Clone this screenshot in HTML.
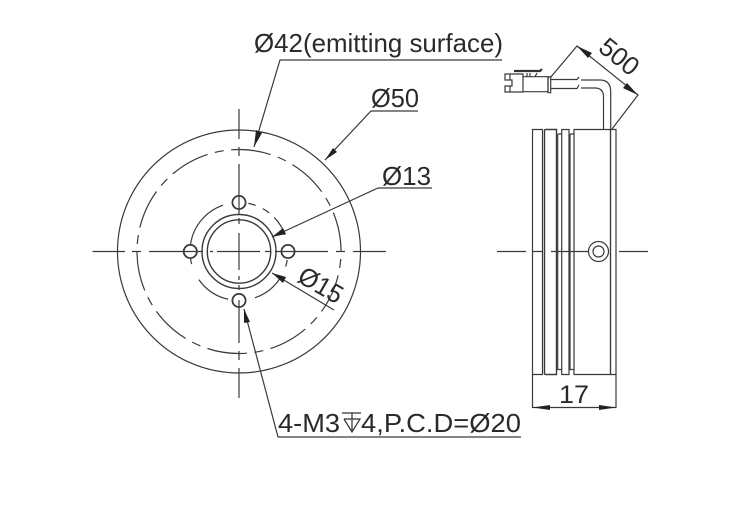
<!DOCTYPE html>
<html><head><meta charset="utf-8"><style>
html,body{margin:0;padding:0;background:#fff;overflow:hidden}
svg{display:block}
text{font-family:"Liberation Sans",sans-serif;fill:#2a2a2a}
</style></head><body>
<svg width="733" height="529" viewBox="0 0 733 529" xmlns="http://www.w3.org/2000/svg">
<g fill="none" stroke="#3a3a3a" stroke-width="1.2">
<!-- front view -->
<circle cx="239" cy="251.5" r="121.5"/>
<circle cx="239" cy="251.5" r="102" stroke-dasharray="40.08 7.5 9 7.5" stroke-dashoffset="40.08"/>
<circle cx="239" cy="251.5" r="49" pathLength="360" stroke-dasharray="8 12 41 32 42 20 7 12 67 30 9 9 9 8 24 30" stroke-dashoffset="-10"/>
<circle cx="239" cy="251.5" r="37" stroke-width="1.4"/>
<circle cx="239" cy="251.5" r="31.7" stroke-width="1.4"/>
<g stroke-width="1.8" fill="#fff">
<circle cx="239" cy="202.5" r="6.6"/><circle cx="190.3" cy="251.5" r="6.6"/>
<circle cx="288" cy="251.5" r="6.6"/><circle cx="239" cy="300.5" r="6.6"/>
</g>
<!-- centre lines -->
<path d="M239 109V139M239 147V156M239 164V214M239 218V224M239 233V270M239 276V280M239 285V290M239 300V343M239 351V360M239 368V398"/>
<path d="M92.5 251.5H125M132 251.5H141M149 251.5H203M210 251.5H213M217 251.5H260M265 251.5H270M275 251.5H328M336 251.5H345M353 251.5H386"/>
<!-- leaders -->
<path d="M502 60H280L254 147"/>
<path d="M418 111H371L325 160"/>
<path d="M432 188H378L272 237"/>
<path d="M272 273L334 310"/>
<path d="M521 437H278L244 309"/>
<!-- side view -->
<path d="M532.5 129.5H542.5V374.5H532.5Z"/>
<path d="M544.5 130.5Q544.5 129.5 546 129.5H556.5V374.5H546Q544.5 374.5 544.5 373.5Z" stroke-width="1.4"/>
<path d="M557.7 134H561.5M557.7 134V369.5H561.5"/>
<path d="M561.7 129.5H569V374.5H561.7Z"/>
<path d="M570 134H574M570 134V369.5H574"/>
<path d="M574 129.5H610.5V374.5H574Z"/>
<path d="M610.5 129.5H616V374.5H610.5Z"/>
<path d="M497 251.5H526M532 251.5H543M551 251.5H591M619 251.5H648"/>
<circle cx="598.5" cy="251.5" r="10" fill="#fff"/><circle cx="598.5" cy="251.5" r="5.5"/>
<!-- dim 17 -->
<path d="M532.5 375V408M616 375V408M532.5 407.5H616"/>
<!-- cable -->
<path d="M551 79.5H577L579 77M581 80H600Q610.7 80 610.7 92V129"/>
<path d="M551 88.5H577L579 85M581 88H595Q603.5 88 603.5 97V129"/>
<path d="M505 74H523V92H505V86H512V80H505Z"/>
<path d="M510 74V80M510 86V92"/>
<path d="M523 76.7H548V91.7H523"/>
<path d="M548 76.7H550.7V92.7H548Z"/>
<path d="M527 73V76.7M530 73V76.7M537 73L535 76.7"/>
<!-- dim 500 -->
<path d="M550 78L577 46L638 95L612 129"/>
</g>
<g fill="#222" stroke="none">
<path d="M254 147L256 130L262 133Z"/>
<path d="M325 160L333 148L337 152Z"/>
<path d="M272 237L283 228L286 234Z"/>
<path d="M272 273L286 277L283 283Z"/>
<path d="M244 309L250 322L244 323Z"/>
<path d="M532.5 407.5L550 405V410Z"/><path d="M616 407.5L599 405V410Z"/>
<path d="M577 46L592 53L588 58Z"/><path d="M638 95L623 88L627 83Z"/>
</g>
<path d="M514 71H540L542 69" fill="none" stroke="#333" stroke-width="2.2"/>
<text x="254" y="52" font-size="26" textLength="249" lengthAdjust="spacingAndGlyphs">Ø42(emitting surface)</text>
<text x="371" y="107" font-size="26" textLength="48" lengthAdjust="spacingAndGlyphs">Ø50</text>
<text x="382" y="185" font-size="26" textLength="49" lengthAdjust="spacingAndGlyphs">Ø13</text>
<text x="559" y="403" font-size="25" textLength="30" lengthAdjust="spacingAndGlyphs">17</text>
<text x="278" y="432" font-size="26" textLength="62" lengthAdjust="spacingAndGlyphs">4-M3</text>
<text x="361" y="432" font-size="26" textLength="160" lengthAdjust="spacingAndGlyphs">4,P.C.D=Ø20</text>
<text transform="translate(296 281) rotate(30)" font-size="26" textLength="47" lengthAdjust="spacingAndGlyphs">Ø15</text>
<text transform="translate(597 50) rotate(39)" font-size="26" textLength="43" lengthAdjust="spacingAndGlyphs">500</text>
<g fill="none" stroke="#333" stroke-width="1.2">
<path d="M342 413H361M344 419H360L352 432L344 419M352 413V432"/>
</g>
</svg>
</body></html>
